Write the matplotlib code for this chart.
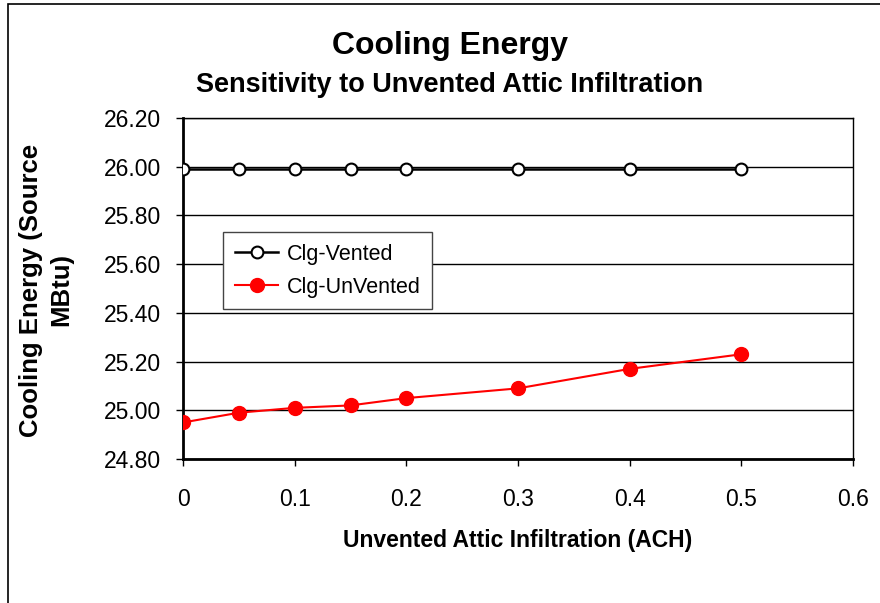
import matplotlib
matplotlib.use("Agg")
import matplotlib.pyplot as plt
from matplotlib.patches import Rectangle

plt.rcParams['font.family'] = ['Liberation Sans', 'DejaVu Sans']

# data
ach = [0, 0.05, 0.1, 0.15, 0.2, 0.3, 0.4, 0.5]
clg_vented = [25.99, 25.99, 25.99, 25.99, 25.99, 25.99, 25.99, 25.99]
clg_unvented = [24.95, 24.99, 25.01, 25.02, 25.05, 25.09, 25.17, 25.23]
y_ticks = [24.80, 25.00, 25.20, 25.40, 25.60, 25.80, 26.00, 26.20]
x_ticks = [0, 0.1, 0.2, 0.3, 0.4, 0.5, 0.6]

fig = plt.figure(figsize=(8.8, 6.03), dpi=100)
ax = fig.add_axes([183 / 880, 1 - 459 / 603, 670 / 880, 341 / 603])

ax.plot(ach, clg_vented, color='black', lw=1.8, marker='o', ms=8.5,
        mfc='white', mec='black', mew=1.5, label='Clg-Vented', zorder=3)
ax.plot(ach, clg_unvented, color='#ff0000', lw=1.5, marker='o', ms=10,
        mfc='#ff0000', mec='#ff0000', label='Clg-UnVented', zorder=3)

ax.set_xlim(0, 0.6)
ax.set_ylim(24.8, 26.2)
ax.set_xticks(x_ticks)
ax.set_xticklabels(['0', '0.1', '0.2', '0.3', '0.4', '0.5', '0.6'])
ax.set_yticks(y_ticks)
ax.set_yticklabels(['%.2f' % v for v in y_ticks])
ax.yaxis.grid(True, color='black', lw=1)
ax.set_axisbelow(True)
ax.tick_params(axis='both', direction='out', length=5, width=1, labelsize=16.5,
               color='black')
ax.tick_params(axis='x', pad=16)
ax.tick_params(axis='y', pad=11)
for s in ax.spines.values():
    s.set_linewidth(1)
ax.spines['left'].set_linewidth(2)
ax.spines['bottom'].set_linewidth(2)

ax.set_xlabel('Unvented Attic Infiltration (ACH)', fontsize=16.5,
              fontweight='bold', labelpad=13)
fig.text(46 / 880, 1 - 290 / 603, 'Cooling Energy (Source\nMBtu)', rotation=90,
         fontsize=18.5, fontweight='bold', ha='center', va='center',
         multialignment='center', linespacing=1.3)

fig.text(450 / 880, 1 - 46 / 603, 'Cooling Energy', fontsize=23,
         fontweight='bold', ha='center', va='center')
fig.text(450 / 880, 1 - 85 / 603, 'Sensitivity to Unvented Attic Infiltration',
         fontsize=19.5, fontweight='bold', ha='center', va='center')

leg = ax.legend(loc='upper left', bbox_to_anchor=(0.06, 0.666), borderaxespad=0,
                fontsize=15.5, fancybox=False, framealpha=1, handlelength=2.0,
                handletextpad=0.4, borderpad=0.55, labelspacing=0.55)
leg.get_frame().set_edgecolor('#444444')
leg.get_frame().set_linewidth(1)

fig.patches.append(Rectangle((8 / 880, -0.05), 1.1, 1 - 4 / 603 + 0.05,
                             transform=fig.transFigure, fill=False,
                             edgecolor='black', lw=1.2))

fig.savefig('out.png', dpi=100)
